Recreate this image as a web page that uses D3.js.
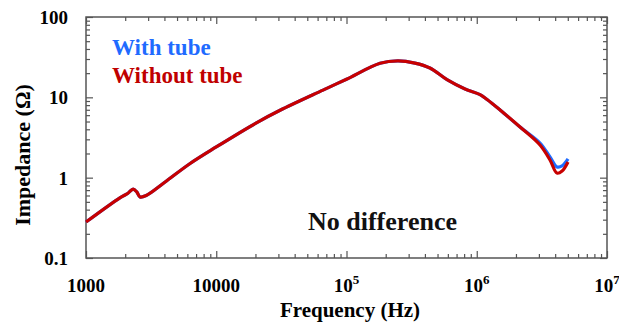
<!DOCTYPE html>
<html>
<head>
<meta charset="utf-8">
<script src="https://cdn.jsdelivr.net/npm/d3@7/dist/d3.min.js"></script>
<style>
  body { margin: 0; background: #fff; }
  text { font-family: "Liberation Serif", "Times New Roman", serif; font-weight: bold; }
</style>
</head>
<body>
<div id="chart"></div>
<script>
// frequencies (Hz)
const freq = [1000, 1820, 2100, 2300, 2460, 2600, 2900, 4000, 6300,
  10000, 20500, 30900, 66000, 100000, 181000, 248000, 335000, 437000,
  591000, 813000, 1060000, 1200000, 1510000, 2150000, 3060000, 3650000, 4130000, 4520000, 5020000];

// impedance (ohm)
const withoutTube = [0.28, 0.56, 0.64, 0.72, 0.66, 0.575, 0.60, 0.87, 1.50,
  2.41, 4.85, 6.9, 12.3, 16.8, 26.5, 28.4, 26.7, 23.2,
  16.6, 12.7, 10.8, 9.4, 6.96, 4.27, 2.55, 1.66, 1.14, 1.21, 1.57];

const withTube = [0.28, 0.56, 0.64, 0.72, 0.66, 0.575, 0.60, 0.87, 1.50,
  2.41, 4.85, 6.9, 12.3, 16.8, 26.5, 28.4, 26.7, 23.2,
  16.6, 12.7, 10.8, 9.4, 6.96, 4.27, 2.70, 1.81, 1.36, 1.40, 1.71];

const xTicks = [1e3, 1e4, 1e5, 1e6, 1e7];
const xTickLabels = ['1000', '10000', '10^5', '10^6', '10^7'];
const yTicks = [0.1, 1, 10, 100];
const yTickLabels = ['0.1', '1', '10', '100'];

const width = 619, height = 323;
const margin = { top: 17, right: 12, bottom: 65, left: 86 };
const w = width - margin.left - margin.right;
const h = height - margin.top - margin.bottom;

const svg = d3.select('#chart')
  .append('svg')
  .attr('width', width)
  .attr('height', height);

const g = svg.append('g')
  .attr('transform', 'translate(' + margin.left + ',' + margin.top + ')');

const x = d3.scaleLog().domain([1e3, 1e7]).range([0, w]);
const y = d3.scaleLog().domain([0.1, 100]).range([h, 0]);

const xMinor = x.ticks().filter(v => !xTicks.includes(v));
const yMinor = y.ticks().filter(v => !yTicks.some(t => Math.abs(t - v) < 1e-9));

function tickAxis(axis, vals, size) {
  return axis.tickValues(vals).tickSize(size).tickFormat('');
}

const axes = [
  [d3.axisBottom(x), xTicks, xMinor, 'translate(0,' + h + ')'],
  [d3.axisTop(x), xTicks, xMinor, null],
  [d3.axisLeft(y), yTicks, yMinor, null],
  [d3.axisRight(y), yTicks, yMinor, 'translate(' + w + ',0)']
];

axes.forEach(a => {
  [[a[1], -7], [a[2], -4]].forEach(set => {
    const ax = g.append('g')
      .call(tickAxis(a[0], set[0], set[1]));
    if (a[3]) ax.attr('transform', a[3]);
    ax.select('.domain').remove();
    ax.selectAll('line').attr('stroke', '#555').attr('stroke-width', 1.2);
  });
});

g.append('rect')
  .attr('width', w)
  .attr('height', h)
  .attr('fill', 'none')
  .attr('stroke', '#555')
  .attr('stroke-width', 1.5);

// tick labels
xTickLabels.forEach((lab, i) => {
  const t = g.append('text')
    .attr('x', x(xTicks[i]))
    .attr('y', h + 34)
    .attr('text-anchor', 'middle')
    .attr('font-size', 19);
  const parts = lab.split('^');
  t.append('tspan').text(parts[0]);
  if (parts[1]) {
    t.append('tspan').attr('font-size', 13).attr('dy', -8).text(parts[1]);
  }
});

yTickLabels.forEach((lab, i) => {
  g.append('text')
    .attr('x', -18)
    .attr('y', y(yTicks[i]) + 7)
    .attr('text-anchor', 'end')
    .attr('font-size', 19)
    .text(lab);
});

// axis titles
svg.append('text')
  .attr('x', 350)
  .attr('y', 317)
  .attr('text-anchor', 'middle')
  .attr('font-size', 21)
  .text('Frequency (Hz)');

svg.append('text')
  .attr('transform', 'translate(30,155) rotate(-90)')
  .attr('text-anchor', 'middle')
  .attr('font-size', 22)
  .text('Impedance (\u03A9)');

// curves
const line = d3.line()
  .x(d => x(d[0]))
  .y(d => y(d[1]))
  .curve(d3.curveCatmullRom.alpha(0.5));

g.append('path')
  .datum(freq.map((f, i) => [f, withTube[i]]))
  .attr('d', line)
  .attr('fill', 'none')
  .attr('stroke', '#1f6bff')
  .attr('stroke-width', 3.2);

g.append('path')
  .datum(freq.map((f, i) => [f, withoutTube[i]]))
  .attr('d', line)
  .attr('fill', 'none')
  .attr('stroke', '#c80000')
  .attr('stroke-width', 3.2);

// legend + note
svg.append('text')
  .attr('x', 112).attr('y', 55)
  .attr('font-size', 23)
  .attr('fill', '#1f6bff')
  .text('With tube');

svg.append('text')
  .attr('x', 112).attr('y', 83)
  .attr('font-size', 23)
  .attr('fill', '#c00000')
  .text('Without tube');

svg.append('text')
  .attr('x', 308).attr('y', 230)
  .attr('font-size', 26)
  .attr('fill', '#111')
  .text('No difference');
</script>
</body>
</html>
